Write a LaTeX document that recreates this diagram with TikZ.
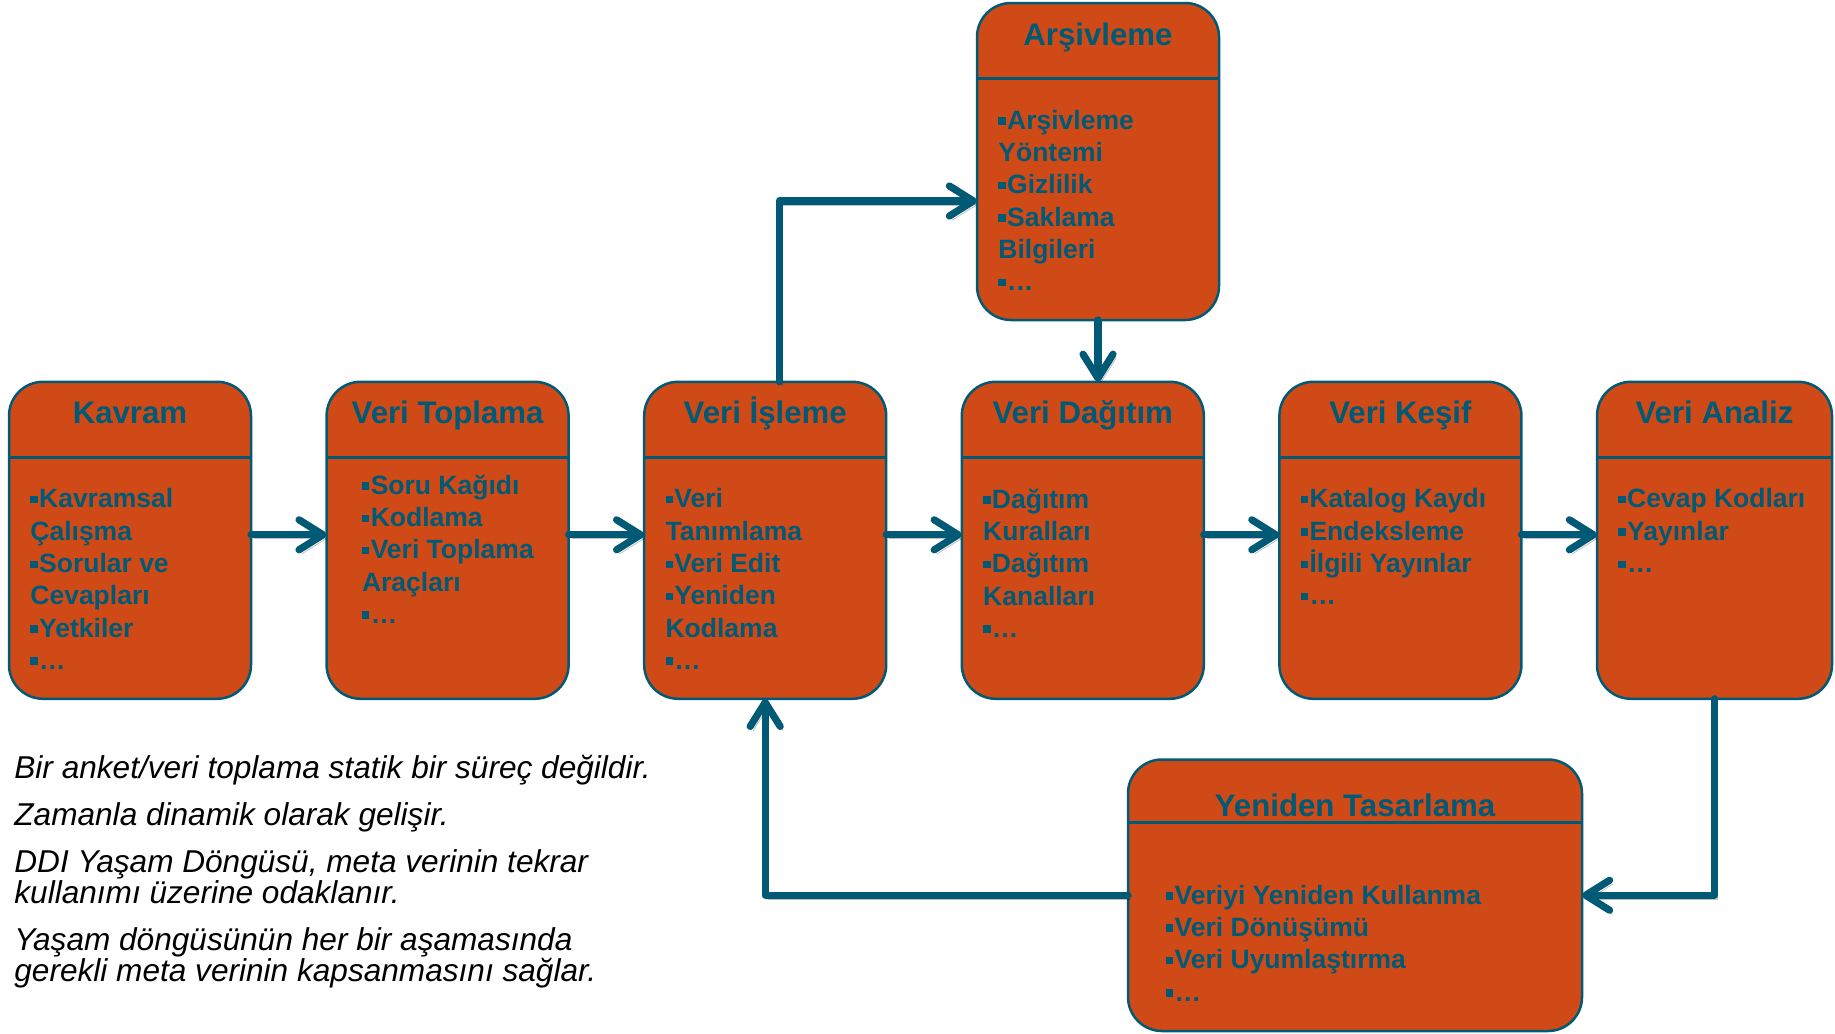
\documentclass[tikz,border=0pt]{standalone}
\usepackage{fontspec}
\setmainfont{Liberation Sans}
\usetikzlibrary{arrows.meta, positioning, calc}
\definecolor{card}{HTML}{D04A17}
\definecolor{edge}{HTML}{005A75}
\newcommand{\bul}{\rule[0.17em]{0.28em}{0.28em}\hspace{0.05em}}
\tikzset{
  stage/.style={draw=edge, line width=1.25pt, fill=card, rounded corners=17pt, minimum width=121pt, minimum height=158.5pt, inner sep=0pt, outer sep=0pt},
  hdr/.style={draw=edge, line width=1.7pt},
  ttl/.style={anchor=base, inner sep=0pt, text=edge, font=\bfseries\fontsize{15.6pt}{18pt}\selectfont},
  itm/.style={anchor=north west, inner sep=0pt, align=left, text=edge, font=\bfseries\fontsize{13.25pt}{16.15pt}\selectfont},
  note/.style={anchor=north west, inner sep=0pt, align=left, font=\itshape\fontsize{15.8pt}{15.5pt}\selectfont},
  flow/.style={draw=edge, line width=3.6pt, line cap=round, line join=round, -{Straight Barb[length=12pt, width=15pt, round]},
    preaction={draw=black, opacity=.25, transform canvas={shift={(1.5pt,-2pt)}}}},
}

\begin{document}
\begin{tikzpicture}[x=0.5pt, y=-0.5pt]
\useasboundingbox (0,0) rectangle (1835,1033);
\fill[white] (0,0) rectangle (1835,1033);

% stages of the life cycle
\node[stage] (k) at (130,540.3) {};
\node[stage, right=37.8pt of k] (vt) {};
\node[stage, right=37.8pt of vt] (vi) {};
\node[stage, right=37.8pt of vi] (vd) {};
\node[stage, right=37.8pt of vd] (vk) {};
\node[stage, right=37.8pt of vk, minimum width=117.5pt] (va) {};
\node[stage] (ar) at (1098,161.5) {};
\node[stage, minimum width=227pt, minimum height=135.75pt] (yt) at (1355,895.25) {};

\draw[hdr] ($(k.north west)+(0,75.5)$) -- ($(k.north east)+(0,75.5)$);
\draw[hdr] ($(vt.north west)+(0,75.5)$) -- ($(vt.north east)+(0,75.5)$);
\draw[hdr] ($(vi.north west)+(0,75.5)$) -- ($(vi.north east)+(0,75.5)$);
\draw[hdr] ($(vd.north west)+(0,75.5)$) -- ($(vd.north east)+(0,75.5)$);
\draw[hdr] ($(vk.north west)+(0,75.5)$) -- ($(vk.north east)+(0,75.5)$);
\draw[hdr] ($(va.north west)+(0,75.5)$) -- ($(va.north east)+(0,75.5)$);
\draw[hdr] ($(ar.north west)+(0,75.5)$) -- ($(ar.north east)+(0,75.5)$);
\draw[hdr] ($(yt.north west)+(0,63)$) -- ($(yt.north east)+(0,63)$);

% titles
\node[ttl] (k-t) at ($(k.north)+(0,42)$) {Kavram};
\node[ttl] (vt-t) at ($(vt.north)+(0,42)$) {Veri Toplama};
\node[ttl] (vi-t) at ($(vi.north)+(0,42)$) {Veri İşleme};
\node[ttl] (vd-t) at ($(vd.north)+(0,42)$) {Veri Dağıtım};
\node[ttl] (vk-t) at ($(vk.north)+(0,42)$) {Veri Keşif};
\node[ttl] (va-t) at ($(va.north)+(0,42)$) {Veri Analiz};
\node[ttl] (ar-t) at ($(ar.north)+(0,42)$) {Arşivleme};
\node[ttl] (yt-t) at ($(yt.north)+(0,56.5)$) {Yeniden Tasarlama};

% items
\node[itm] (k-l) at ($(k.north west)+(21,106.5)$) {\bul Kavramsal\\Çalışma\\\bul Sorular ve\\Cevapları\\\bul Yetkiler\\\bul …};
\node[itm] (vt-l) at ($(vt.north west)+(35,92.5)$) {\bul Soru Kağıdı\\\bul Kodlama\\\bul Veri Toplama\\Araçları\\\bul …};
\node[itm] (vi-l) at ($(vi.north west)+(21,106.5)$) {\bul Veri\\Tanımlama\\\bul Veri Edit\\\bul Yeniden\\Kodlama\\\bul …};
\node[itm] (vd-l) at ($(vd.north west)+(21,106.5)$) {\bul Dağıtım\\Kuralları\\\bul Dağıtım\\Kanalları\\\bul …};
\node[itm] (vk-l) at ($(vk.north west)+(21,106.5)$) {\bul Katalog Kaydı\\\bul Endeksleme\\\bul İlgili Yayınlar\\\bul …};
\node[itm] (va-l) at ($(va.north west)+(21,106.5)$) {\bul Cevap Kodları\\\bul Yayınlar\\\bul …};
\node[itm] (ar-l) at ($(ar.north west)+(21,106.5)$) {\bul Arşivleme\\Yöntemi\\\bul Gizlilik\\\bul Saklama\\Bilgileri\\\bul …};
\node[itm] (yt-l) at ($(yt.north west)+(37.5,125)$) {\bul Veriyi Yeniden Kullanma\\\bul Veri Dönüşümü\\\bul Veri Uyumlaştırma\\\bul …};

% remarks
\node[note] (txt) at (14,755) {Bir anket/veri toplama statik bir süreç değildir.\\[8pt]
  Zamanla dinamik olarak gelişir.\\[8pt]
  DDI Yaşam Döngüsü, meta verinin tekrar\\kullanımı üzerine odaklanır.\\[8pt]
  Yaşam döngüsünün her bir aşamasında\\gerekli meta verinin kapsanmasını sağlar.};

% connectors
\draw[flow] ([yshift=2.75pt]k.east) -- ([yshift=2.75pt]vt.west);
\draw[flow] ([yshift=2.75pt]vt.east) -- ([yshift=2.75pt]vi.west);
\draw[flow] ([yshift=2.75pt]vi.east) -- ([yshift=2.75pt]vd.west);
\draw[flow] ([yshift=2.75pt]vd.east) -- ([yshift=2.75pt]vk.west);
\draw[flow] ([yshift=2.75pt]vk.east) -- ([yshift=2.75pt]va.west);
\draw[flow] ([xshift=7pt]vi.north) |- ([yshift=-19.75pt]ar.west);
\draw[flow] (ar.south) -- (ar.south |- vd.north);
\draw[flow] (va.south) |- (yt.east);
\draw[flow] (yt.west) -| (vi.south);
\end{tikzpicture}
\end{document}
